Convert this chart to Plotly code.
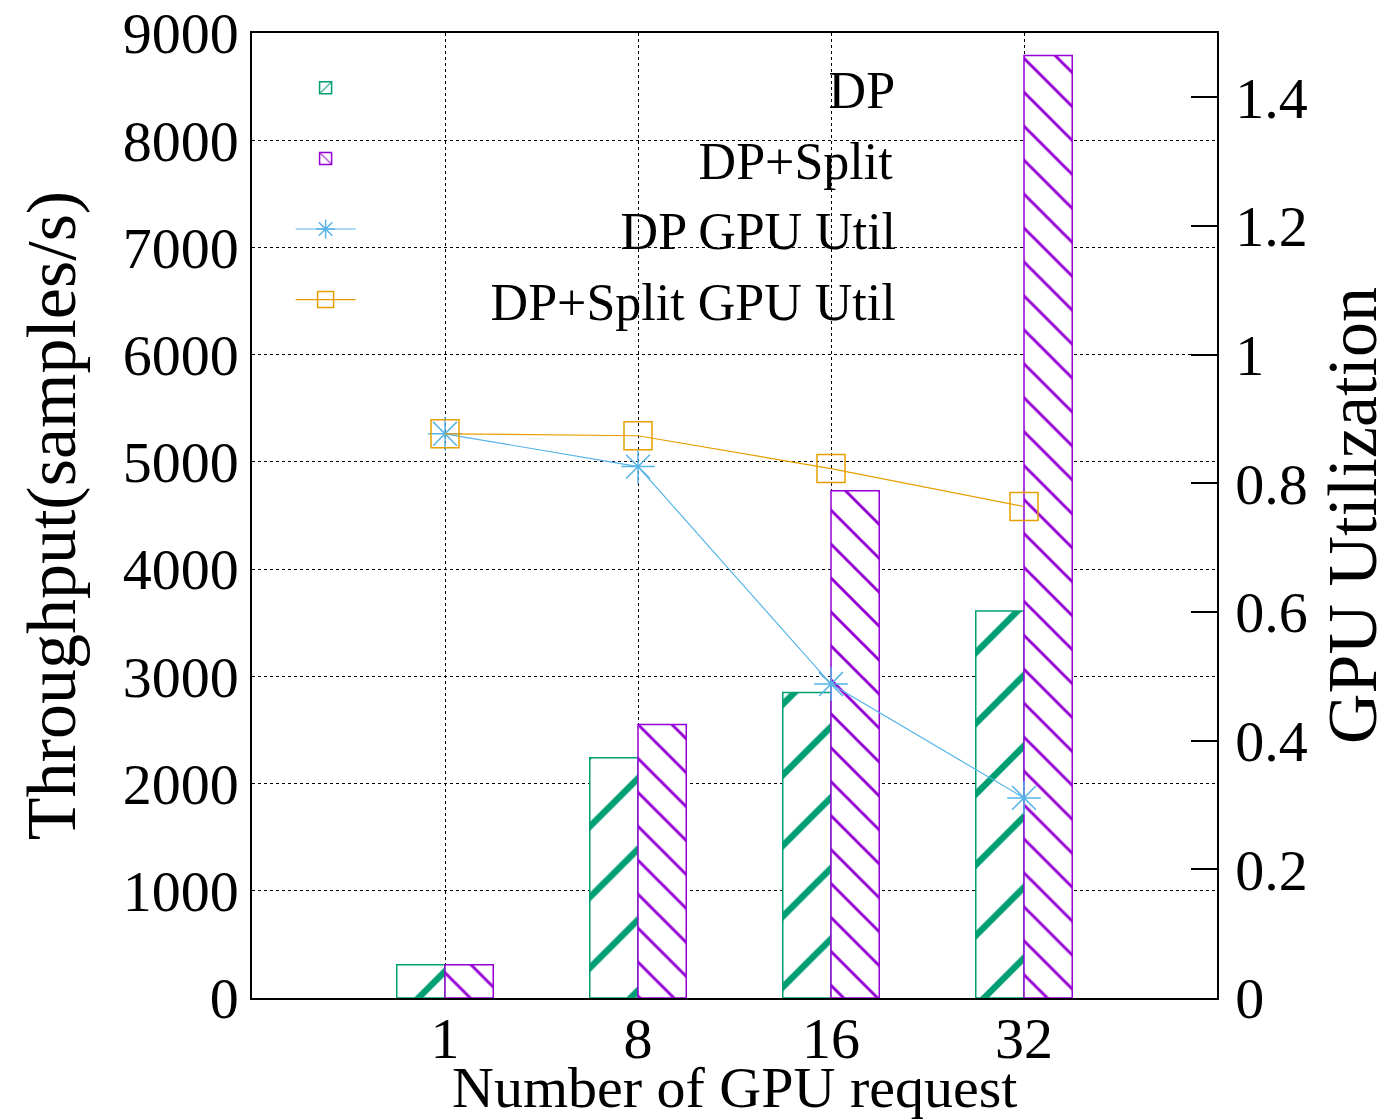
import plotly.graph_objects as go

categories = ["1", "8", "16", "32"]
positions = [1, 2, 3, 4]
dp_throughput = [310, 2240, 2850, 3610]
split_throughput = [310, 2550, 4730, 8790]
dp_util = [0.877, 0.826, 0.488, 0.311]
split_util = [0.877, 0.874, 0.823, 0.764]

GREEN = "#009e73"
PURPLE = "#9400d3"
BLUE = "#56b4e9"
ORANGE = "#e69f00"
FONT = "Liberation Serif"
NB = "\u00a0"
PAD = 10

fig = go.Figure()
fig.add_trace(go.Bar(
    x=positions, y=dp_throughput, name=NB * (PAD + 26) + "DP",
    width=0.25, offset=-0.25,
    marker=dict(color="white", line=dict(color=GREEN, width=1.5),
                pattern=dict(shape="/", fgcolor=GREEN, bgcolor="white", fgopacity=1,
                             size=50, solidity=0.13)),
))
fig.add_trace(go.Bar(
    x=positions, y=split_throughput, name=NB * (PAD + 16) + "DP+Split",
    width=0.25, offset=0,
    marker=dict(color="white", line=dict(color=PURPLE, width=1.5),
                pattern=dict(shape="\\", fgcolor=PURPLE, bgcolor="white", fgopacity=1,
                             size=24, solidity=0.12)),
))
fig.add_trace(go.Scatter(
    x=positions, y=dp_util, name=NB * (PAD + 10) + "DP GPU Util", yaxis="y2",
    mode="lines+markers", line=dict(color=BLUE, width=1.2),
    marker=dict(symbol="asterisk-open", size=28, line=dict(color=BLUE, width=1.5)),
))
fig.add_trace(go.Scatter(
    x=positions, y=split_util, name=NB * PAD + "DP+Split GPU Util", yaxis="y2",
    mode="lines+markers", line=dict(color=ORANGE, width=1.2),
    marker=dict(symbol="square-open", size=28, color=ORANGE, line=dict(color=ORANGE, width=1.5)),
))

fig.update_layout(
    width=1393, height=1119,
    margin=dict(l=244, r=184, t=25, b=129),
    paper_bgcolor="white", plot_bgcolor="white",
    font=dict(family=FONT, size=58, color="black"),
    barmode="overlay",
    showlegend=True,
    legend=dict(x=0.04, y=0.985, xanchor="left", yanchor="top",
                bgcolor="rgba(0,0,0,0)", font=dict(size=52, family=FONT),
                itemwidth=60, traceorder="normal"),
    xaxis=dict(
        range=[0, 5], tickmode="array", tickvals=positions, ticktext=categories,
        showgrid=True, gridcolor="black", griddash="dot", gridwidth=1,
        showline=True, linecolor="black", linewidth=1.5, mirror=True,
        ticks="inside", ticklen=0, ticklabelstandoff=-11, automargin=False,
        ticklabeloverflow="allow",
        zeroline=False,
    ),
    yaxis=dict(
        range=[0, 9000], dtick=1000, tickformat="d",
        showgrid=True, gridcolor="black", griddash="dot", gridwidth=1,
        showline=True, linecolor="black", linewidth=1.5, mirror=True,
        ticks="inside", ticklen=0, ticklabelstandoff=0, automargin=False,
        ticklabeloverflow="allow",
        title=dict(text="Throughput(samples/s)", standoff=24),
        zeroline=False,
    ),
    yaxis2=dict(
        overlaying="y", side="right", range=[0, 1.5], dtick=0.2,
        showgrid=False, showline=True, linecolor="black", linewidth=1.5,
        ticks="inside", ticklen=26, tickcolor="black", tickwidth=1.5,
        ticklabelstandoff=5, automargin=False, ticklabeloverflow="allow",
        title=dict(text="GPU Utilization", standoff=20),
        zeroline=False,
    ),
    annotations=[dict(
        text="Number of GPU request", xref="paper", yref="paper",
        x=0.5, y=-0.093, xanchor="center", yanchor="middle",
        showarrow=False, font=dict(size=58, family=FONT),
    )],
)

fig.write_html("out.html")
